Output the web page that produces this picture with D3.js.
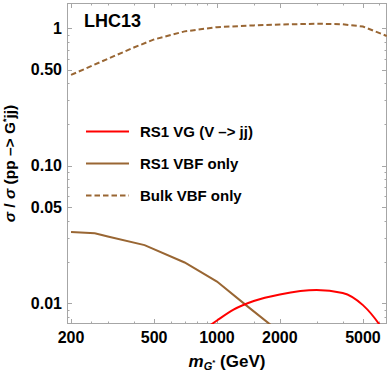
<!DOCTYPE html>
<html><head><meta charset="utf-8">
<script src="https://cdn.jsdelivr.net/npm/d3@7"></script>
<style>body{margin:0;background:#fff}svg{display:block}text{font-family:"Liberation Sans",Arial,sans-serif;font-weight:bold;fill:#000}</style>
</head><body><svg id="c" width="392" height="376"></svg>
<script>
// Data (mass in GeV, ratio)
const bulkMass = [200, 300, 400, 500, 700, 1000, 1500, 2000, 3000, 4000, 5000, 6500];
const bulkVal  = [0.458, 0.600, 0.725, 0.830, 0.950, 1.02, 1.05, 1.065, 1.08, 1.07, 1.03, 0.88];
const rs1Mass = [200, 260, 300, 450, 700, 1000, 1400, 1800, 2000];
const rs1Val  = [0.0330, 0.0323, 0.0306, 0.0265, 0.0198, 0.0144, 0.0095, 0.0070, 0.0061];
const vgMass = [900, 950, 1000, 1200, 1500, 2000, 3000, 4000, 5000, 6000, 6500];
const vgVal  = [0.0067, 0.0071, 0.0075, 0.0090, 0.0104, 0.0116, 0.0125, 0.0119, 0.0097, 0.0070, 0.0058];
const xMajor = [200, 500, 1000, 2000, 5000];
const xMajorLabels = ["200", "500", "1000", "2000", "5000"];
const xMinor = [250, 300, 400, 600, 700, 800, 900, 1500, 3000, 4000, 6000];
const yMajor = [0.01, 0.05, 0.1, 0.5, 1];
const yMajorLabels = ["0.01", "0.05", "0.10", "0.50", "1"];
const yMinor = [0.008, 0.009, 0.02, 0.03, 0.04, 0.06, 0.07, 0.08, 0.09, 0.2, 0.3, 0.4, 0.6, 0.7, 0.8, 0.9];
const legendLabels = ["RS1 VG (V \u2013> jj)", "RS1 VBF only", "Bulk VBF only"];

const svg = d3.select("#c");
const L = 67, R = 387, T = 3, B = 324;
const x = d3.scaleLog().domain([191.3, 6520]).range([L, R]);
const y = d3.scaleLog().domain([0.00707, 1.528]).range([B, T]);
const frameCol = "#a6a6a6";
const brown = "#996633";

svg.append("clipPath").attr("id","clip").append("rect").attr("x",L).attr("y",T).attr("width",R-L).attr("height",B-T);

// ticks
const tk = svg.append("g").attr("stroke", frameCol).attr("stroke-width", 1);
function vt(v, len){ const px = Math.round(x(v))+0.5;
  tk.append("line").attr("x1",px).attr("x2",px).attr("y1",B).attr("y2",B-len);
  tk.append("line").attr("x1",px).attr("x2",px).attr("y1",T).attr("y2",T+len); }
function ht(v, len){ const py = Math.round(y(v))+0.5;
  tk.append("line").attr("y1",py).attr("y2",py).attr("x1",L).attr("x2",L+len);
  tk.append("line").attr("y1",py).attr("y2",py).attr("x1",R).attr("x2",R-len); }
xMajor.forEach(v=>vt(v,5)); xMinor.forEach(v=>vt(v,2.5));
yMajor.forEach(v=>ht(v,5)); yMinor.forEach(v=>ht(v,2.5));

// frame
svg.append("rect").attr("x",L+0.5).attr("y",T+0.5).attr("width",R-L-1).attr("height",B-T-1)
  .attr("fill","none").attr("stroke",frameCol).attr("stroke-width",1);

// tick labels
svg.append("g").selectAll("text").data(xMajor).join("text")
  .attr("x",d=>x(d)).attr("y",343).attr("text-anchor","middle").attr("font-size",16)
  .text((d,i)=>xMajorLabels[i]);
svg.append("g").selectAll("text").data(yMajor).join("text")
  .attr("x",62).attr("y",d=>y(d)+5.5).attr("text-anchor","end").attr("font-size",16)
  .text((d,i)=>yMajorLabels[i]);

// curves
const line = d3.line().x(d=>x(d[0])).y(d=>y(d[1]));
const smooth = d3.line().x(d=>x(d[0])).y(d=>y(d[1])).curve(d3.curveMonotoneX);
const g = svg.append("g").attr("clip-path","url(#clip)");
g.append("path").datum(bulkMass.map((m,i)=>[m,bulkVal[i]])).attr("d",line)
  .attr("fill","none").attr("stroke",brown).attr("stroke-width",2).attr("stroke-dasharray","5.5,3");
g.append("path").datum(rs1Mass.map((m,i)=>[m,rs1Val[i]])).attr("d",line)
  .attr("fill","none").attr("stroke",brown).attr("stroke-width",2);
g.append("path").datum(vgMass.map((m,i)=>[m,vgVal[i]])).attr("d",smooth)
  .attr("fill","none").attr("stroke","#ff0000").attr("stroke-width",2);

// legend
const legY = [131.5, 163.5, 195.5];
const legStyle = [["#ff0000",null],[brown,null],[brown,"5.5,3"]];
legendLabels.forEach((t,i)=>{
  const ln = svg.append("line").attr("x1",86).attr("x2",129).attr("y1",legY[i]).attr("y2",legY[i])
    .attr("stroke",legStyle[i][0]).attr("stroke-width",2);
  if (legStyle[i][1]) ln.attr("stroke-dasharray",legStyle[i][1]);
  svg.append("text").attr("x",140).attr("y",legY[i]+5.5).attr("font-size",15).text(t);
});

// title
svg.append("text").attr("x",84).attr("y",27).attr("font-size",18).text("LHC13");

// axis labels
const xl = svg.append("text").attr("x",227).attr("y",367).attr("text-anchor","middle").attr("font-size",17);
xl.append("tspan").attr("font-style","italic").text("m");
xl.append("tspan").attr("font-style","italic").attr("font-size",11).attr("dy",3).text("G");
xl.append("tspan").attr("font-size",8).attr("dy",-5).text("*");
xl.append("tspan").attr("dy",2).text(" (GeV)");

const yl = svg.append("text").attr("transform","translate(15,163.5) rotate(-90)").attr("text-anchor","middle").attr("font-size",15.5);
yl.append("tspan").attr("font-style","italic").text("\u03c3");
yl.append("tspan").text(" / ");
yl.append("tspan").attr("font-style","italic").text("\u03c3");
yl.append("tspan").text(" (pp \u2013> G");
yl.append("tspan").attr("font-size",9).attr("dy",-6).text("*");
yl.append("tspan").attr("dy",6).text("jj)");
</script></body></html>
